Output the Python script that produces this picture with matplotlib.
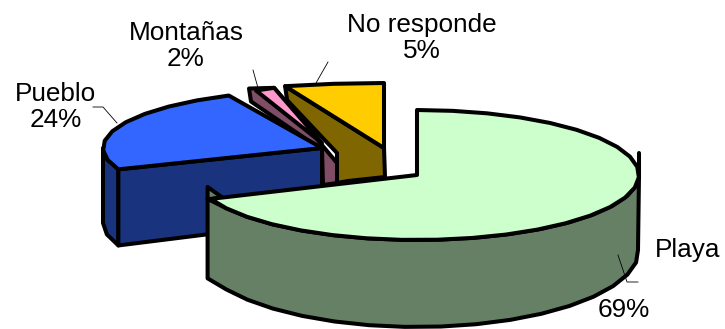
import numpy as np
import matplotlib
matplotlib.use('Agg')
import matplotlib.pyplot as plt
from matplotlib.patches import Polygon

categories = ['Playa', 'Pueblo', 'Montañas', 'No responde']
percents = [69, 24, 2, 5]

top_colors = ['#CCFFCC', '#3366FF', '#FF99CC', '#FFCC00']
side_colors = ['#668066', '#1A337F', '#804D66', '#806600']

# centre x, centre y, radius x, radius y of each exploded slice
centers = [(417, 175), (322, 148), (322, 143), (384, 148)]
radii = [(222, 65), (219, 58), (155, 58), (320, 65)]
# how far the lower rim sits under the top one
depths = [75, 72, 40, 30]

plt.rcParams['font.family'] = ['Liberation Sans', 'DejaVu Sans']

fig = plt.figure(figsize=(7.25, 3.29), dpi=100)
ax = fig.add_axes([0, 0, 1, 1])
ax.set_xlim(0, 725)
ax.set_ylim(329, 0)
ax.axis('off')

LW = 2.9


def arc(i, t0, t1, dy=0, db=0, step=9.0):
    # angles run clockwise from twelve o'clock
    cx, cy = centers[i]
    a, b = radii[i]
    n = max(int(abs(t1 - t0) / step), 1) + 1
    t = np.radians(np.linspace(t0, t1, n))
    return np.column_stack([cx + a * np.sin(t), cy + dy - (b + db) * np.cos(t)])


def poly(pts, color):
    ax.add_patch(Polygon(pts, closed=True, facecolor=color, edgecolor='black',
                         linewidth=LW, joinstyle='round'))


edges = np.concatenate([[0], np.cumsum(percents) / np.sum(percents) * 360])
apex = [np.array(c, dtype=float) for c in centers]

# No responde
rim = arc(3, edges[3], edges[4])
left = rim[0]
poly([left, left + (2, 14), apex[3] + (-47, 5), apex[3] + (-47, 35),
      apex[3] + (-36, 33), apex[3] + (1, 29), apex[3]], side_colors[3])
poly(np.vstack([[apex[3]], rim, [apex[3] + (0, -64)]]), top_colors[3])

# Montañas
rim = arc(2, edges[2], edges[3])
poly([rim[0] + (-7, -2), rim[0] + (-5, 11), apex[2] + (0, 7), apex[2] + (1, 42),
      apex[2] + (15, 40), apex[2] + (15, 20), rim[-1]], side_colors[2])
poly(np.vstack([[apex[2]], rim]), top_colors[2])

# Pueblo: outer side, cut face, then the top
rim = arc(1, edges[1], edges[2])
outer_top = arc(1, edges[1], 270)
outer_low = arc(1, edges[1], 270, dy=depths[1] + 3, db=3)
poly(np.vstack([outer_top, outer_low[::-1]]), side_colors[1])
poly([rim[0], apex[1], apex[1] + (0, depths[1]), outer_low[0]], side_colors[1])
poly(np.vstack([[apex[1]], rim]), top_colors[1])

# Playa: small back corner, rim wall, then the top
rim = arc(0, edges[0], edges[1])
start = rim[-1]
poly([start + (-3, -12), start + (11, -2), start + (-3, 1)], side_colors[0])
wall_top = arc(0, 90, edges[1])
wall_low = arc(0, 90, edges[1], dy=depths[0], db=12)
wall_low[:, 0] = np.minimum(wall_low[:, 0], 638)
wall_low[-1, 0] -= 3
wall_top[-1, 0] -= 3
poly(np.vstack([wall_top, wall_low[::-1]]), side_colors[0])
poly(np.vstack([[apex[0]], rim]), top_colors[0])
ax.plot([639, 639], [153, 178], color='black', lw=LW, solid_capstyle='round')

# leader lines
leaders = [
    ([93, 103, 117], [107, 107, 123]),
    ([253, 258], [70, 88]),
    ([328, 316], [62, 83]),
    ([618, 627, 638], [255, 282, 282]),
]
for xs, ys in leaders:
    ax.plot(xs, ys, color='black', lw=0.6)

# labels
fs = 18.8
ax.text(655, 250, categories[0], fontsize=fs, ha='left', va='center')
ax.text(624, 310, f'{percents[0]}%', fontsize=fs, ha='center', va='center')
ax.text(56, 107, f'{categories[1]}\n{percents[1]}%', fontsize=fs, ha='center', va='center', linespacing=1.08)
ax.text(186, 46, f'{categories[2]}\n{percents[2]}%', fontsize=fs, ha='center', va='center', linespacing=1.08)
ax.text(422, 38, f'{categories[3]}\n{percents[3]}%', fontsize=fs, ha='center', va='center', linespacing=1.08)

fig.savefig('out.png', dpi=100)
